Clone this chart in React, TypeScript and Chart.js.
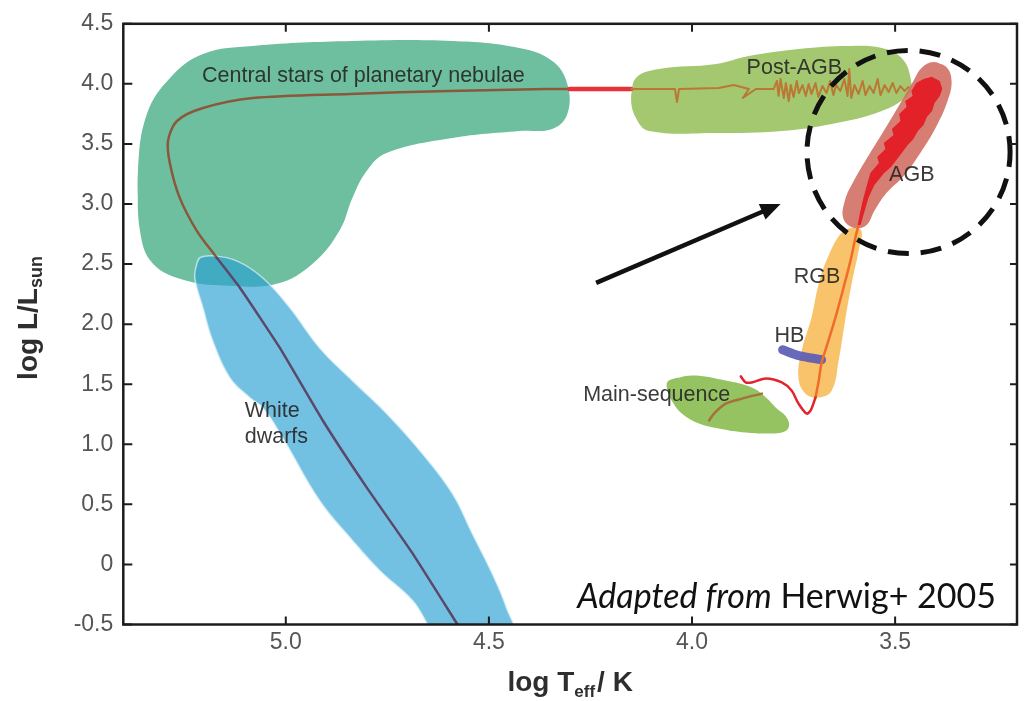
import { useEffect, useRef } from 'react';
import { Chart, registerables } from 'chart.js';

Chart.register(...registerables);

type P = [number, number];

// Axis ranges and ticks (x is log Teff, drawn reversed)
const X_RANGE: P = [3.2, 5.4];
const Y_RANGE: P = [-0.5, 4.5];
const X_TICKS = [3.5, 4.0, 4.5, 5.0];
const Y_TICKS = [-0.5, 0, 0.5, 1.0, 1.5, 2.0, 2.5, 3.0, 3.5, 4.0, 4.5];

// Outlines of the populated regions, [log Teff, log L/Lsun]
const cspnRegion: P[] = [
  [5.359, 2.777], [5.364, 3.275], [5.342, 3.749], [5.285, 4.049], [5.204, 4.248],
  [5.081, 4.315], [4.836, 4.356], [4.59, 4.356], [4.425, 4.298], [4.344, 4.19],
  [4.307, 3.999], [4.307, 3.749], [4.344, 3.625], [4.425, 3.608], [4.59, 3.55],
  [4.752, 3.425], [4.801, 3.275], [4.836, 3.051], [4.868, 2.777], [4.934, 2.503],
  [5.022, 2.336], [5.138, 2.32], [5.244, 2.361], [5.327, 2.503],
];

const wdRegion: P[] = [
  [5.219, 2.503], [5.212, 2.553], [5.18, 2.569], [5.121, 2.527], [5.057, 2.386],
  [4.99, 2.137], [4.917, 1.804], [4.836, 1.53], [4.752, 1.256], [4.664, 0.923],
  [4.59, 0.591], [4.541, 0.258], [4.492, -0.075], [4.457, -0.358], [4.438, -0.6],
  [4.53, -0.62], [4.622, -0.6], [4.688, -0.3], [4.769, -0.05], [4.836, 0.2],
  [4.917, 0.532], [5.008, 1.056], [5.057, 1.306], [5.089, 1.389], [5.138, 1.555],
  [5.18, 1.862], [5.204, 2.137], [5.224, 2.386],
];

const postAgbRegion: P[] = [
  [4.15, 3.882], [4.138, 4.049], [4.081, 4.123], [3.941, 4.165], [3.86, 4.232],
  [3.737, 4.29], [3.614, 4.315], [3.533, 4.298], [3.484, 4.215], [3.462, 4.049],
  [3.467, 3.916], [3.533, 3.774], [3.656, 3.666], [3.779, 3.608], [3.941, 3.591],
  [4.106, 3.608], [4.138, 3.716],
];

const msRegion: P[] = [
  [4.057, 1.53], [4.0, 1.572], [3.917, 1.53], [3.853, 1.472], [3.818, 1.39],
  [3.794, 1.306], [3.767, 1.223], [3.762, 1.14], [3.779, 1.098], [3.818, 1.09],
  [3.868, 1.098], [3.934, 1.132], [3.983, 1.173], [4.025, 1.256], [4.05, 1.364],
  [4.062, 1.472],
];

const rgbRegion: P[] = [
  [3.607, 2.801], [3.583, 2.777], [3.59, 2.611], [3.607, 2.336], [3.622, 2.054],
  [3.639, 1.697], [3.656, 1.448], [3.688, 1.39], [3.721, 1.423], [3.738, 1.555],
  [3.73, 1.78], [3.706, 2.054], [3.688, 2.336], [3.664, 2.569], [3.632, 2.76],
];

const agbRegion: P[] = [
  [3.406, 4.182], [3.374, 4.14], [3.361, 4.024], [3.371, 3.857], [3.398, 3.65],
  [3.438, 3.425], [3.479, 3.234], [3.521, 3.093], [3.551, 2.943], [3.57, 2.826],
  [3.6, 2.801], [3.627, 2.876], [3.624, 3.026], [3.602, 3.192], [3.563, 3.417],
  [3.519, 3.658], [3.484, 3.857], [3.455, 4.024], [3.435, 4.132],
];

// Thermally pulsing core of the AGB band (jagged outline)
const agbCore: P[] = [
  [3.448, 4.007], [3.46, 3.941], [3.457, 3.899], [3.475, 3.857], [3.472, 3.808],
  [3.49, 3.749], [3.487, 3.691], [3.508, 3.625], [3.504, 3.575], [3.528, 3.508],
  [3.524, 3.458], [3.544, 3.392], [3.54, 3.342], [3.561, 3.259], [3.57, 3.151],
  [3.58, 3.026], [3.587, 2.918], [3.592, 2.826], [3.585, 2.826], [3.575, 2.943],
  [3.565, 3.059], [3.551, 3.159], [3.527, 3.259], [3.51, 3.309], [3.495, 3.375],
  [3.48, 3.442], [3.469, 3.492], [3.455, 3.542], [3.444, 3.608], [3.43, 3.658],
  [3.422, 3.724], [3.409, 3.774], [3.403, 3.841], [3.39, 3.899], [3.384, 3.957],
  [3.39, 4.024], [3.41, 4.06], [3.43, 4.04],
];

// Horizontal branch (short band)
const hbPath: P[] = [[3.777, 1.787], [3.737, 1.738], [3.681, 1.704]];

// Evolutionary tracks
const msTrack: P[] = [[3.828, 1.422], [3.877, 1.38], [3.917, 1.338], [3.946, 1.256], [3.958, 1.198]];

const subgiantTrack: P[] = [
  [3.696, 1.39], [3.708, 1.282], [3.718, 1.256], [3.738, 1.34], [3.755, 1.448],
  [3.779, 1.515], [3.818, 1.548], [3.853, 1.515], [3.868, 1.515], [3.88, 1.565],
];

const rgbTrack: P[] = [
  [3.558, 3.151], [3.58, 2.943], [3.595, 2.76], [3.61, 2.527], [3.629, 2.278],
  [3.647, 2.054], [3.668, 1.821], [3.681, 1.68], [3.688, 1.53], [3.696, 1.39],
];

const postAgbTrack: P[] = [
  [4.15, 3.957], [4.042, 3.957], [4.037, 3.849], [4.032, 3.957], [3.934, 3.965],
  [3.897, 3.99], [3.86, 3.957], [3.875, 3.882], [3.843, 3.957], [3.799, 3.957],
  [3.791, 4.024], [3.787, 3.899], [3.782, 4.04], [3.774, 3.882], [3.769, 4.007],
  [3.762, 3.857], [3.757, 3.99], [3.75, 3.891], [3.742, 4.024], [3.737, 3.924],
  [3.728, 3.99], [3.72, 3.899], [3.713, 3.999], [3.706, 3.916], [3.696, 4.007],
  [3.689, 3.891], [3.679, 3.982], [3.669, 3.924], [3.66, 4.024], [3.652, 3.907],
  [3.645, 3.99], [3.635, 3.941], [3.625, 4.04], [3.617, 3.899], [3.613, 4.123],
  [3.608, 3.882], [3.6, 3.99], [3.59, 3.916], [3.58, 4.024], [3.573, 3.907],
  [3.563, 3.982], [3.553, 3.924], [3.543, 4.04], [3.536, 3.907], [3.526, 3.99],
  [3.516, 3.932], [3.506, 4.007], [3.497, 3.924], [3.487, 3.982], [3.477, 3.941],
  [3.467, 3.974],
];

const transitionTrack: P[] = [[4.302, 3.957], [4.15, 3.957]];

const cspnTrack: P[] = [
  [4.307, 3.957], [4.359, 3.957], [4.598, 3.941], [4.843, 3.916], [5.081, 3.882],
  [5.204, 3.799], [5.268, 3.691], [5.29, 3.525], [5.285, 3.334], [5.261, 3.051],
  [5.219, 2.777], [5.17, 2.553],
];

const wdTrack: P[] = [
  [5.17, 2.553], [5.113, 2.303], [5.015, 1.804], [4.909, 1.198], [4.801, 0.641],
  [4.688, 0.092], [4.573, -0.523],
];

// Region names and their anchors
const regionLabels = ['Central stars of planetary nebulae', 'Post-AGB', 'AGB', 'RGB', 'HB', 'Main-sequence', 'White', 'dwarfs'];
const regionLabelAnchors: P[] = [
  [4.809, 4.015], [3.748, 4.084], [3.459, 3.192], [3.692, 2.339], [3.76, 1.848],
  [4.087, 1.363], [5.101, 1.23], [5.101, 1.009],
];

// Highlight around the AGB: circle centre / radius (in log Teff) and pointer arrow
const highlightCenter: P = [3.467, 3.433];
const highlightRadius = 0.25;
const arrowFrom: P = [4.236, 2.344];
const arrowTo: P = [3.782, 3.001];

const SANS = '"Liberation Sans", Arial, Helvetica, sans-serif';
const NOTE_FONT = 'Lato, "Open Sans", sans-serif';

const pts = (a: P[]) => a.map(([x, y]) => ({ x, y }));
// closed outline: repeat the first two vertices so the spline closes smoothly
const loop = (a: P[]) => pts([...a, a[0], a[1]]);

const blob = (label: string, region: P[], color: string, order: number, extra: any = {}) => ({
  label,
  data: loop(region),
  showLine: true,
  fill: 'shape',
  backgroundColor: color,
  borderColor: 'rgba(0,0,0,0)',
  borderWidth: 0,
  pointRadius: 0,
  tension: 0.4,
  order,
  ...extra,
});

const track = (label: string, path: P[], color: string, width: number, order: number, tension = 0.3) => ({
  label,
  data: pts(path),
  showLine: true,
  fill: false,
  borderColor: color,
  backgroundColor: color,
  borderWidth: width,
  pointRadius: 0,
  tension,
  order,
  borderCapStyle: 'round',
  borderJoinStyle: 'round',
});

function drawRun(ctx: CanvasRenderingContext2D, parts: { text: string; font: string; dy: number; gap: number }[], cx: number, y: number) {
  let total = 0;
  const widths = parts.map((p) => {
    ctx.font = p.font;
    const w = ctx.measureText(p.text).width;
    total += w + p.gap;
    return w;
  });
  let x = cx - total / 2;
  ctx.textAlign = 'left';
  ctx.textBaseline = 'alphabetic';
  parts.forEach((p, i) => {
    ctx.font = p.font;
    ctx.fillText(p.text, x, y + p.dy);
    x += widths[i] + p.gap;
  });
}

const decorPlugin = {
  id: 'hrDecor',
  afterDatasetsDraw(chart: any) {
    const { ctx, chartArea: a, scales } = chart;
    const px = (v: number) => scales.x.getPixelForValue(v);
    const py = (v: number) => scales.y.getPixelForValue(v);
    ctx.save();

    // region names
    ctx.font = `21.5px ${SANS}`;
    ctx.fillStyle = 'rgba(38,38,38,0.9)';
    ctx.textBaseline = 'alphabetic';
    regionLabels.forEach((t, i) => {
      const [lx, ly] = regionLabelAnchors[i];
      ctx.textAlign = i >= 6 ? 'left' : 'center';
      ctx.fillText(t, px(lx), py(ly));
    });

    // dashed circle around the AGB
    const cx = px(highlightCenter[0]);
    const cy = py(highlightCenter[1]);
    const r = Math.abs(px(highlightCenter[0] + highlightRadius) - cx);
    ctx.beginPath();
    ctx.setLineDash([21, 12]);
    ctx.lineDashOffset = 6;
    ctx.lineWidth = 5;
    ctx.strokeStyle = '#111';
    ctx.arc(cx, cy, r, 0, Math.PI * 2);
    ctx.stroke();
    ctx.setLineDash([]);

    // arrow pointing at the AGB
    const x0 = px(arrowFrom[0]);
    const y0 = py(arrowFrom[1]);
    const x1 = px(arrowTo[0]);
    const y1 = py(arrowTo[1]);
    const ang = Math.atan2(y1 - y0, x1 - x0);
    const head = 20;
    const half = 8.5;
    ctx.lineWidth = 4.5;
    ctx.lineCap = 'butt';
    ctx.beginPath();
    ctx.moveTo(x0, y0);
    ctx.lineTo(x1 - Math.cos(ang) * (head - 2), y1 - Math.sin(ang) * (head - 2));
    ctx.stroke();
    ctx.fillStyle = '#111';
    ctx.beginPath();
    ctx.moveTo(x1, y1);
    ctx.lineTo(x1 - Math.cos(ang) * head - Math.sin(ang) * half, y1 - Math.sin(ang) * head + Math.cos(ang) * half);
    ctx.lineTo(x1 - Math.cos(ang) * head + Math.sin(ang) * half, y1 - Math.sin(ang) * head - Math.cos(ang) * half);
    ctx.closePath();
    ctx.fill();

    // source note
    const base = a.bottom - 17;
    const right = a.right - 21;
    ctx.fillStyle = '#111';
    ctx.textAlign = 'left';
    ctx.font = `italic 34px ${NOTE_FONT}`;
    const w1 = ctx.measureText('Adapted from').width;
    ctx.font = `34px ${NOTE_FONT}`;
    const w2 = ctx.measureText(' Herwig+ 2005').width;
    const start = right - w1 - w2;
    ctx.font = `italic 34px ${NOTE_FONT}`;
    ctx.fillText('Adapted from', start, base);
    ctx.font = `34px ${NOTE_FONT}`;
    ctx.fillText(' Herwig+ 2005', start + w1, base);
    ctx.restore();
  },
  afterDraw(chart: any) {
    const { ctx, chartArea: a, scales } = chart;
    ctx.save();
    // frame with inward ticks on all sides
    ctx.strokeStyle = '#1c1c1c';
    ctx.lineWidth = 2.5;
    ctx.strokeRect(a.left, a.top, a.right - a.left, a.bottom - a.top);
    ctx.lineWidth = 2;
    ctx.beginPath();
    X_TICKS.forEach((v) => {
      const x = scales.x.getPixelForValue(v);
      ctx.moveTo(x, a.bottom);
      ctx.lineTo(x, a.bottom - 8);
      ctx.moveTo(x, a.top);
      ctx.lineTo(x, a.top + 8);
    });
    Y_TICKS.forEach((v) => {
      const y = scales.y.getPixelForValue(v);
      ctx.moveTo(a.left, y);
      ctx.lineTo(a.left + 9, y);
      ctx.moveTo(a.right, y);
      ctx.lineTo(a.right - 7, y);
    });
    ctx.stroke();

    // axis titles
    ctx.fillStyle = '#2e2e2e';
    drawRun(
      ctx,
      [
        { text: 'log T', font: `bold 28px ${SANS}`, dy: 0, gap: 0 },
        { text: 'eff', font: `bold 17px ${SANS}`, dy: 6, gap: 2 },
        { text: '/ K', font: `bold 28px ${SANS}`, dy: 0, gap: 0 },
      ],
      (a.left + a.right) / 2,
      a.bottom + 66,
    );
    ctx.save();
    ctx.translate(a.left - 86, 318);
    ctx.rotate(-Math.PI / 2);
    drawRun(
      ctx,
      [
        { text: 'log L/L', font: `bold 28px ${SANS}`, dy: 0, gap: 0 },
        { text: 'sun', font: `bold 18px ${SANS}`, dy: 5, gap: 0 },
      ],
      0,
      0,
    );
    ctx.restore();
    ctx.restore();
  },
};

export default function App() {
  const canvasRef = useRef<HTMLCanvasElement | null>(null);

  useEffect(() => {
    const canvas = canvasRef.current;
    if (!canvas) return;

    const datasets: any[] = [
      blob('Central stars of planetary nebulae', cspnRegion, 'rgb(110,191,160)', 100),
      blob('White dwarfs', wdRegion, 'rgba(40,160,210,0.65)', 95, {
        borderColor: 'rgba(225,242,250,0.7)',
        borderWidth: 1.5,
      }),
      blob('Post-AGB', postAgbRegion, 'rgb(163,200,112)', 90),
      blob('Main-sequence', msRegion, 'rgb(150,195,98)', 89),
      blob('RGB', rgbRegion, 'rgba(247,185,80,0.85)', 88),
      blob('AGB', agbRegion, 'rgba(208,108,96,0.88)', 87),
      track('HB', hbPath, 'rgba(92,92,182,0.92)', 9, 80, 0.3),
      track('CSPN track', cspnTrack, 'rgb(138,88,58)', 2.5, 20),
      track('WD cooling track', wdTrack, 'rgb(92,72,104)', 2.5, 19, 0.15),
      track('Transition', transitionTrack, 'rgb(232,50,58)', 4.5, 18, 0),
      track('Post-AGB track', postAgbTrack, 'rgb(186,120,52)', 2, 17, 0),
      track('RGB track', rgbTrack, 'rgb(240,108,40)', 2.5, 16),
      {
        ...blob('AGB pulses', agbCore, 'rgb(226,34,40)', 15),
        data: pts(agbCore),
        tension: 0,
      },
      track('Subgiant track', subgiantTrack, 'rgb(226,36,46)', 2.5, 14),
      track('Main-sequence track', msTrack, 'rgb(165,112,58)', 2.5, 13),
    ];

    const chart = new Chart(canvas, {
      type: 'scatter',
      data: { datasets },
      options: {
        animation: false,
        responsive: false,
        devicePixelRatio: 1,
        events: [],
        layout: { padding: { left: 0, right: 12, top: 22.7, bottom: 0 } },
        plugins: {
          legend: { display: false },
          tooltip: { enabled: false },
        },
        scales: {
          x: {
            type: 'linear',
            reverse: true,
            min: X_RANGE[0],
            max: X_RANGE[1],
            afterBuildTicks: (s: any) => {
              s.ticks = X_TICKS.map((value) => ({ value }));
            },
            afterFit: (s: any) => {
              s.height = 76.5;
            },
            grid: { display: false, drawTicks: false },
            border: { display: false },
            ticks: {
              autoSkip: false,
              maxRotation: 0,
              padding: 4,
              color: '#555',
              font: { family: SANS, size: 23 },
              callback: (v: any) => Number(v).toFixed(1),
            },
          },
          y: {
            type: 'linear',
            min: Y_RANGE[0],
            max: Y_RANGE[1],
            afterBuildTicks: (s: any) => {
              s.ticks = Y_TICKS.map((value) => ({ value }));
            },
            afterFit: (s: any) => {
              s.width = 123.3;
            },
            grid: { display: false, drawTicks: false },
            border: { display: false },
            ticks: {
              autoSkip: false,
              padding: 10,
              color: '#555',
              font: { family: SANS, size: 23 },
              callback: (v: any) => (Number(v) === 0 ? '0' : Number(v).toFixed(1)),
            },
          },
        },
      } as any,
      plugins: [decorPlugin],
    });

    return () => chart.destroy();
  }, []);

  return (
    <div style={{ position: 'absolute', left: 0, top: 0, width: 1029, height: 701, background: '#fff' }}>
      <canvas ref={canvasRef} width={1029} height={701} style={{ display: 'block', width: 1029, height: 701 }} />
    </div>
  );
}
